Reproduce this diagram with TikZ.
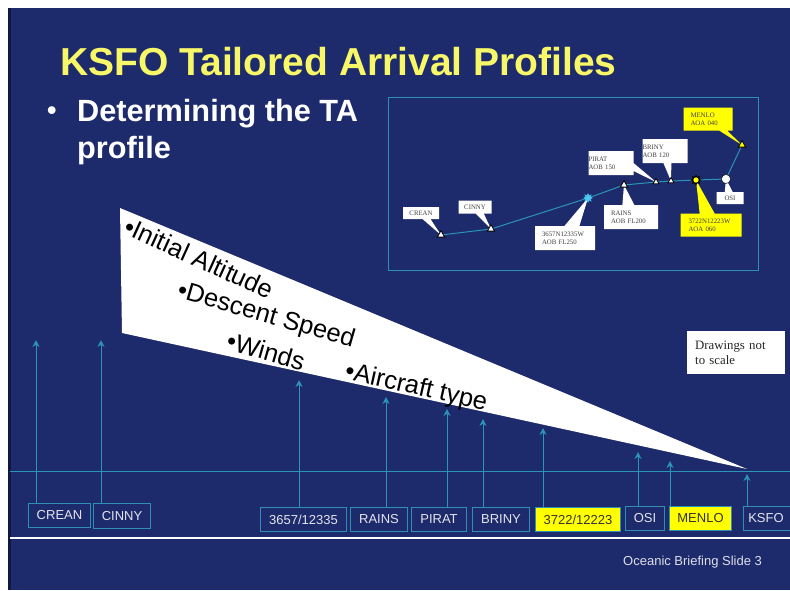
\documentclass[tikz,border=0pt]{standalone}
\usepackage{fontspec}
\setmainfont{Liberation Sans}
\newfontfamily\serifnote{Liberation Serif}
\usetikzlibrary{arrows.meta,shapes.geometric,shapes.callouts}
\definecolor{navy}{HTML}{1D2A6B}
\definecolor{darkstrip}{HTML}{10183F}
\definecolor{teal1}{HTML}{2A95B5}
\definecolor{tealbox}{HTML}{2E8FB0}
\definecolor{titley}{HTML}{F7F768}
\definecolor{yel}{HTML}{FFFF00}
\tikzset{
  lab/.style={draw=tealbox,line width=1pt,text=white!88!navy,font=\fontsize{13}{13}\selectfont,inner sep=0pt,anchor=north west},
  ylab/.style={lab,fill=yel,text=black!80},
  arr/.style={draw=teal1,line width=1pt,-{Stealth[width=7pt,length=7pt]}},
  rline/.style={draw=teal1,line width=1pt},
  wedgetext/.style={font=\fontsize{25.5}{26}\selectfont,text=black},
  tri/.style={regular polygon,regular polygon sides=3,draw=black,fill=white,line width=0.8pt,minimum size=8.5pt,inner sep=0pt},
  wc/.style={rectangle callout,fill=white,font=\serifnote\fontsize{6.8}{8}\selectfont,text=black!75,align=left,inner ysep=0pt,inner xsep=0pt,callout pointer width=8pt},
  yc/.style={wc,fill=yel}
}
\begin{document}
\begin{tikzpicture}[x=1pt,y=-1pt]
\clip (0,0) rectangle (790,590);
\useasboundingbox (0,0) rectangle (790,590);
\fill[white] (0,0) rectangle (790,590);
\fill[navy] (8,8) rectangle (790,590);
\fill[darkstrip] (8,8) rectangle (11,590);
% title
\node[anchor=west,inner sep=0pt,text=titley,font=\bfseries\fontsize{39}{39}\selectfont] (title) at (60,62) {KSFO Tailored Arrival Profiles};
\node[anchor=west,inner sep=0pt,text=white,font=\bfseries\fontsize{27}{27}\selectfont] (bul) at (47,113) {•};
\node[anchor=north west,inner sep=0pt,text=white,font=\bfseries\fontsize{30.7}{37}\selectfont,align=left] (sub) at (77,99) {Determining the TA\\profile};
% wedge
\fill[white] (120,208) -- (747,469) -- (122,333) -- cycle;
\node[wedgetext,rotate=-24.5] (t1) at (199,258) {•Initial Altitude};
\node[wedgetext,rotate=-16] (t2) at (266,316) {•Descent Speed};
\node[wedgetext,rotate=-16] (t3) at (266,351) {•Winds};
\node[wedgetext,rotate=-12.7] (t4) at (416,388) {•Aircraft type};
% horizon
\coordinate (hl) at (10,471);
\coordinate (hr) at (790,471);
\draw[rline] (hl) -- (hr);
\coordinate (wl) at (10,538);
\coordinate (wr) at (790,538);
\draw[white,line width=1.8pt] (wl) -- (wr);
% label boxes
\node[lab,minimum width=62pt,minimum height=24pt] (crean) at (28,503) {CREAN};
\node[lab,minimum width=57pt,minimum height=25pt] (cinny) at (93,503) {CINNY};
\node[lab,minimum width=86pt,minimum height=24pt] (p3657) at (260,507) {3657/12335};
\node[lab,minimum width=57pt,minimum height=24pt] (rains) at (350,507) {RAINS};
\node[lab,minimum width=55pt,minimum height=24pt] (pirat) at (411,507) {PIRAT};
\node[lab,minimum width=57pt,minimum height=24pt] (briny) at (472,507) {BRINY};
\node[ylab,minimum width=85pt,minimum height=24pt] (p3722) at (535,507) {3722/12223};
\node[lab,minimum width=39pt,minimum height=24pt] (osi) at (625,506) {OSI};
\node[ylab,minimum width=62pt,minimum height=24pt] (menlo) at (669,506) {MENLO};
\node[lab,minimum width=50pt,minimum height=24pt] (ksfo) at (743,506) {\hspace*{-5pt}KSFO};
% arrows
\coordinate (acrean) at (36,340);
\coordinate (acinny) at (101,340);
\coordinate (a3657) at (299,380);
\coordinate (arains) at (386,397);
\coordinate (apirat) at (447,409);
\coordinate (abriny) at (483,419);
\coordinate (a3722) at (543,428);
\coordinate (aosi) at (638,452);
\coordinate (amenlo) at (670,461);
\coordinate (aksfo) at (747,474);
\draw[arr] (acrean |- crean.north) -- (acrean);
\draw[arr] (acinny |- cinny.north) -- (acinny);
\draw[arr] (a3657 |- p3657.north) -- (a3657);
\draw[arr] (arains |- rains.north) -- (arains);
\draw[arr] (apirat |- pirat.north) -- (apirat);
\draw[arr] (abriny |- briny.north) -- (abriny);
\draw[arr] (a3722 |- p3722.north) -- (a3722);
\draw[arr] (aosi |- osi.north) -- (aosi);
\draw[arr] (amenlo |- menlo.north) -- (amenlo);
\draw[arr] (aksfo |- ksfo.north) -- (aksfo);
% inset
\draw[draw=tealbox,line width=1pt] (388,97) rectangle (758,270);
\coordinate (wcrean) at (441,235);
\coordinate (wcinny) at (491,229);
\coordinate (w3657) at (588,198);
\coordinate (wrains) at (624,185);
\coordinate (wpirat) at (656,182);
\coordinate (wbriny) at (671,181);
\coordinate (w3722) at (696,180);
\coordinate (wosi) at (726,179);
\coordinate (wmenlo) at (742,145);
\draw[rline] (wcrean) -- (wcinny) -- (w3657) -- (wrains) -- (wpirat) -- (wbriny) -- (w3722) -- (wosi) -- (wmenlo);
% callouts
\node[wc,minimum width=36pt,minimum height=12pt,callout absolute pointer={(wcrean)}] (ccrean) at (421,213) {CREAN};
\node[wc,minimum width=33pt,minimum height=13pt,callout absolute pointer={(wcinny)}] (ccinny) at (475,207) {CINNY};
\node[wc,text width=46pt,inner xsep=7pt,minimum height=24pt,callout pointer width=15pt,callout absolute pointer={(w3657)}] (c3657) at (565,238) {3657N12335W\\AOB FL250};
\node[wc,text width=40pt,inner xsep=7pt,minimum height=24pt,callout pointer width=12pt,callout absolute pointer={(wrains)}] (crains) at (631,217) {RAINS\\AOB FL200};
\node[wc,text width=45pt,minimum height=24pt,callout absolute pointer={(wpirat)}] (cpirat) at (611,163) {PIRAT\\AOB 150};
\node[wc,text width=45pt,minimum height=24pt,callout absolute pointer={(wbriny)}] (cbriny) at (665,151) {BRINY\\AOB 120};
\node[yc,text width=45pt,inner xsep=8pt,minimum height=23pt,callout pointer width=15pt,callout absolute pointer={(w3722)}] (c3722) at (711,225) {3722N12223W\\AOA 060};
\node[wc,minimum width=27pt,minimum height=12pt,callout absolute pointer={(wosi)}] (cosi) at (730,198) {OSI};
\node[yc,text width=35pt,inner xsep=7pt,minimum height=23pt,callout absolute pointer={(wmenlo)}] (cmenlo) at (708,119) {MENLO\\AOA 040};
% waypoints
\node[tri] (mcrean) at (wcrean) {};
\node[tri] (mcinny) at (wcinny) {};
\node[star,star points=8,star point ratio=1.8,fill=cyan!70!white,minimum size=10pt,inner sep=0pt] (m3657) at (w3657) {};
\node[tri] (mrains) at (wrains) {};
\node[tri,minimum size=7pt] (mpirat) at (wpirat) {};
\node[tri,minimum size=7pt] (mbriny) at (wbriny) {};
\node[star,star points=8,star point ratio=1.6,draw=black,fill=yel,line width=1pt,minimum size=9pt,inner sep=0pt] (m3722) at (w3722) {};
\node[circle,fill=white,draw=black,line width=0.4pt,minimum size=9pt,inner sep=0pt] (mosi) at (wosi) {};
\node[tri,fill=yel] (mmenlo) at (wmenlo) {};
% note
\node[fill=white,text=black!85,font=\serifnote\fontsize{12.8}{15}\selectfont,align=left,anchor=north west,text width=82pt,minimum height=43pt,inner xsep=8pt,inner ysep=0pt] (note) at (687,331) {Drawings not\\to scale};
\node[anchor=west,inner sep=0pt,text=white!85!navy,font=\fontsize{13}{13}\selectfont] (foot) at (623,562) {Oceanic Briefing Slide 3};
\end{tikzpicture}
\end{document}
